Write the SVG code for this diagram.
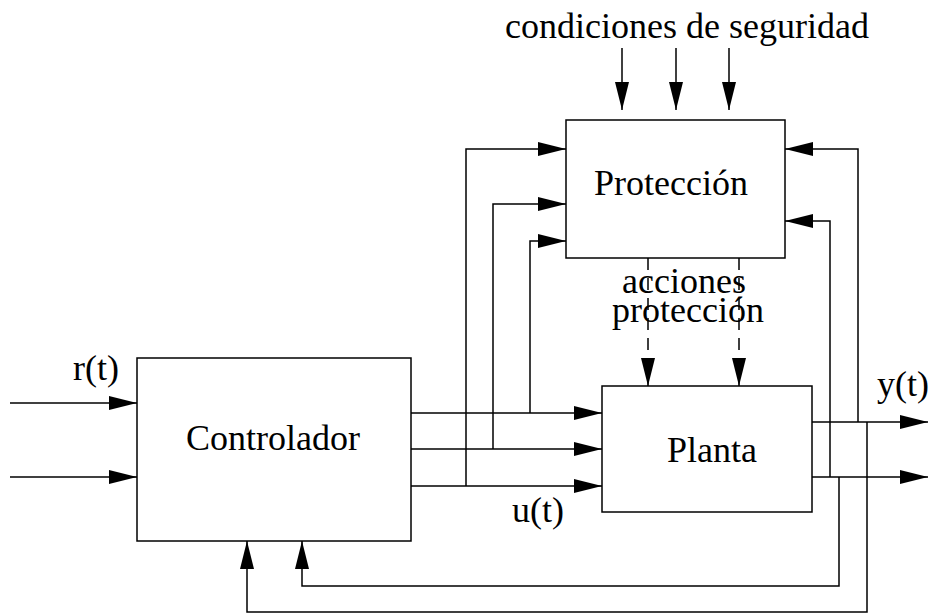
<svg xmlns="http://www.w3.org/2000/svg" width="929" height="613" viewBox="0 0 929 613">
<style>
.box{fill:none;stroke:#000;stroke-width:1.5}
.ln{fill:none;stroke:#000;stroke-width:1.5}
.arr{marker-end:url(#ah)}
.dash{stroke-dasharray:12,8}
text{font-family:"Liberation Serif","Times New Roman",serif;font-size:36px;fill:#000}
</style>
<defs>
<marker id="ah" markerUnits="userSpaceOnUse" markerWidth="28" markerHeight="14" refX="28" refY="7" orient="auto" overflow="visible">
<path d="M0,0 L28,7 L0,14 z" fill="#000"/>
</marker>
</defs>
<rect width="929" height="613" fill="#fff"/>
<g id="proteccion">
<rect class="box" x="566" y="120" width="219" height="138"/>
<text x="671" y="195" text-anchor="middle">Protección</text>
</g>
<g id="controlador">
<rect class="box" x="137" y="358" width="274" height="183"/>
<text x="273" y="450" text-anchor="middle">Controlador</text>
</g>
<g id="planta">
<rect class="box" x="602" y="386" width="210" height="126"/>
<text x="712" y="462" text-anchor="middle">Planta</text>
</g>
<g id="labels">
<text x="687" y="38" text-anchor="middle">condiciones de seguridad</text>
<text x="684" y="293" text-anchor="middle">acciones</text>
<text x="688" y="322" text-anchor="middle">protección</text>
<text x="96" y="380" text-anchor="middle">r(t)</text>
<text x="903" y="396" text-anchor="middle">y(t)</text>
<text x="538" y="522" text-anchor="middle">u(t)</text>
</g>
<g id="connectors">
<line class="ln arr" x1="622" y1="48" x2="622" y2="110"/>
<line class="ln arr" x1="676" y1="48" x2="676" y2="110"/>
<line class="ln arr" x1="729" y1="48" x2="729" y2="110"/>
<line class="ln dash arr" x1="648" y1="258" x2="648" y2="386"/>
<line class="ln dash arr" x1="739" y1="258" x2="739" y2="386"/>
<line class="ln arr" x1="10" y1="403" x2="137" y2="403"/>
<line class="ln arr" x1="10" y1="477" x2="137" y2="477"/>
<line class="ln arr" x1="411" y1="413" x2="602" y2="413"/>
<line class="ln arr" x1="411" y1="449" x2="602" y2="449"/>
<line class="ln arr" x1="411" y1="486" x2="602" y2="486"/>
<polyline class="ln arr" points="466,486 466,149 566,149"/>
<polyline class="ln arr" points="493,449 493,204 566,204"/>
<polyline class="ln arr" points="530,413 530,241 566,241"/>
<line class="ln arr" x1="812" y1="422" x2="928" y2="422"/>
<line class="ln arr" x1="812" y1="477" x2="928" y2="477"/>
<polyline class="ln arr" points="858,422 858,149 785,149"/>
<polyline class="ln arr" points="830,477 830,221 785,221"/>
<polyline class="ln arr" points="839,477 839,586 302,586 302,541"/>
<polyline class="ln arr" points="867,422 867,612 247,612 247,541"/>
</g>
</svg>
